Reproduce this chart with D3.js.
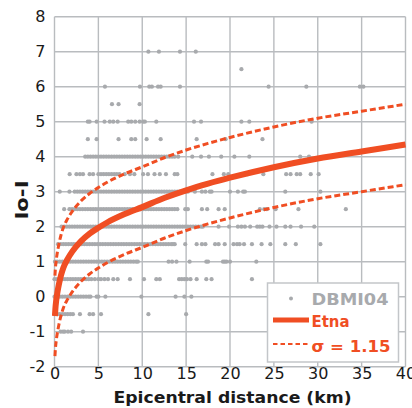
<!DOCTYPE html>
<html><head><meta charset="utf-8">
<script src="https://cdn.jsdelivr.net/npm/d3@7"></script>
<style>html,body{margin:0;padding:0;background:#fff;}svg{display:block;}</style>
</head><body>
<svg id="c" width="412" height="408"></svg>
<script>
// ---------- data ----------
const X_TICKS = [0, 5, 10, 15, 20, 25, 30, 35, 40];
const Y_TICKS = [-2, -1, 0, 1, 2, 3, 4, 5, 6, 7, 8];

// Observed intensity decay (Io-I) rows and the epicentral distances (km) of DBMI04 points
const rowIoI = [7, 6.5, 6, 5.5, 5, 4.5, 4, 3.5, 3, 2.5, 2, 1.5, 1, 0.5, 0, -0.5, -1];
const rowDist = [
  [10.7, 11.9, 14.3, 16.1],
  [21.3],
  [5.75, 9.74, 10.8, 11.1, 11.8, 12.1, 14.3, 24.4, 28.7, 34.8, 35.2],
  [6.55, 7.3, 9.7],
  [3.8, 4.0, 4.8, 5.7, 6.3, 6.7, 7.2, 8.4, 8.75, 9.2, 9.7, 10.1, 10.3, 11.6, 15.9, 16.7, 21.3, 22.2, 29.3],
  [3.8, 4.8, 7.3, 8.75, 9.2, 10.5, 12.1, 16.2, 19.5, 23.7],
  [3.5,3.8,4.1,4.4,4.7,5.0,5.3,5.6,5.9,6.2,6.5,6.8,7.1,7.4,7.7,8.0,8.3,8.6,8.9,9.2,9.5,9.8,10.1,10.4,10.7,11.0,11.3,11.6,11.9,12.2,12.5,12.8,13.1,13.4,13.7,
   14.1, 15.7, 16.7, 17.6, 19.0, 20.5, 22.2, 28.0, 29.0],
  [1.73, 2.5, 2.9, 3.25, 4.0, 4.4, 5.0,5.3,5.6,5.9,6.2,6.5,6.8,7.1,7.4, 8.0, 8.6, 9.1, 10.1, 10.65, 11.4, 12.0, 12.7, 13.7,
   14.0, 18.0, 19.3, 19.8, 22.0, 23.8, 26.4, 26.9, 27.6, 28.0, 29.2, 30.1],
  [0.6, 1.7, 2.3,2.6,2.9,3.2,3.5,3.8,4.1,4.4,4.7,5.0,5.3,5.6,5.9,6.2,6.5,6.8,7.1,7.4,7.7,8.0,8.3,8.6,8.9,9.2,9.5,9.8,10.1,10.4,10.7,11.0,11.3,11.6,11.9,12.2,12.5,12.8,13.1,13.4,13.7,14.0,14.3,
   14.9, 15.2, 16.0, 16.8, 17.2, 17.7, 17.9, 20.0, 20.9, 21.5, 21.7, 26.3, 30.3],
  [1.1, 1.7,2.0,2.3,2.6,2.9,3.2,3.5,3.8,4.1,4.4,4.7,5.0,5.3,5.6,5.9,6.2,6.5,6.8,7.1,7.4,7.7,8.0,8.3,8.6,8.9,9.2,9.5,9.8,10.1,10.4,10.7,11.0,11.3,11.6,11.9,12.2,12.5,12.8,13.1,13.4,13.7,14.0,
   14.9, 15.2, 16.8, 17.4, 18.7, 19.4, 23.4, 23.9, 24.2, 25.2, 27.8, 33.2],
  [0.8,1.1,1.4,1.7,2.0,2.3,2.6,2.9,3.2,3.5,3.8,4.1,4.4,4.7,5.0,5.3,5.6,5.9,6.2,6.5,6.8,7.1,7.4,7.7,8.0,8.3,8.6,8.9,9.2,9.5,9.8,10.1,10.4,10.7,11.0,11.3,11.6,11.9,12.2,12.5,12.8,13.1,13.4,13.7,14.0,14.3,14.6,14.9,15.2,15.5,15.8,16.1,16.4,16.7,16.9,
   18.7, 19.9, 20.9, 21.3, 21.7, 22.3, 23.1, 23.4, 23.7, 24.5, 25.3, 26.3, 26.9, 28.1, 29.6],
  [0.4,0.7,1.0,1.3,1.6,1.9,2.2,2.5,2.8,3.1,3.4,3.7,4.0,4.3,4.6,4.9,5.2,5.5,5.8,6.1,6.4,6.7,7.0,7.3,7.6,7.9,8.2,8.5,8.8,9.1,9.4,9.7,10.0,10.3,10.6,10.9,11.2,11.5,11.8,12.1,12.4,12.7,13.0,13.3,13.5,
   13.7, 14.9, 16.2, 16.8, 17.2, 18.3, 18.7, 19.4, 20.4, 20.8, 21.1, 21.6, 22.5, 23.6, 24.6, 26.3, 27.5, 30.3],
  [0.05,0.3,0.6,0.9,1.2,1.5,1.8,2.1,2.4,2.7,3.0,3.3,3.6,3.9,4.2,4.5,4.8,5.1,5.4,5.7,6.0,6.3,6.6,6.9,7.2,7.5,7.8,8.1,8.4,8.7,9.0,9.3,9.5,
   13.0, 13.4, 13.9, 15.4, 17.3, 17.5, 19.2, 19.4, 19.6, 20.0, 23.0],
  [0.0,0.3,0.6,0.9,1.2,1.5,1.8,2.1,2.4,2.7,3.0,3.3,3.6,3.9,4.2,
   4.6, 5.0, 5.3, 5.7, 6.1, 6.7, 7.2, 8.6, 10.2, 11.6, 12.0, 14.2, 14.5, 14.8, 15.1, 15.5, 16.2, 17.3, 17.9, 22.5],
  [0.0,0.3,0.6,0.9,1.2,1.5,1.8,2.1,2.4,2.7,3.0,3.3,3.6,3.9,4.1,
   4.8, 5.0, 5.8, 9.9, 13.8, 14.8, 15.6],
  [0.0,0.3,0.6,0.9,1.2,1.5,1.8,2.1,
   2.9, 4.0, 4.4, 5.3, 10.7, 15.0],
  [0.7, 0.97, 1.16, 1.54, 1.9, 3.25]
];

// Etna attenuation curve and +/- sigma band
const curveDist = [0.05,0.1,0.2,0.35,0.5,0.75,1,1.5,2,3,4,5,6,8,10,12.5,15,17.5,20,25,30,35,40];
const etnaIoI   = [-0.55,-0.35,-0.1,0.15,0.35,0.62,0.82,1.08,1.28,1.58,1.8,1.97,2.12,2.36,2.56,2.82,3.04,3.23,3.4,3.7,3.95,4.15,4.35];
const upperIoI  = [0.6,0.8,1.05,1.3,1.5,1.77,1.97,2.23,2.43,2.73,2.95,3.12,3.27,3.51,3.71,3.97,4.19,4.38,4.55,4.85,5.1,5.3,5.5];
const lowerIoI  = [-1.7,-1.5,-1.25,-1.0,-0.8,-0.53,-0.33,-0.07,0.13,0.43,0.65,0.82,0.97,1.21,1.41,1.67,1.89,2.08,2.25,2.55,2.8,3.0,3.2];

const legendLabels = ["DBMI04", "Etna", "\u03c3 = 1.15"];
const xTitle = "Epicentral distance (km)";
const yTitle = "Io-I";

// ---------- drawing ----------
const RED = "#f04e23", GRID = "#b9bcbf", PT = "#a8aaad";
const FONT = "'DejaVu Sans', Verdana, sans-serif";
const svg = d3.select("#c");
const m = {l: 54.5, r: 405.5, t: 16.7, b: 366.7};
const x = d3.scaleLinear().domain([0, 40]).range([m.l, m.r]);
const y = d3.scaleLinear().domain([-2, 8]).range([m.b, m.t]);

// grid
const g = svg.append("g");
g.selectAll(".vg").data(X_TICKS).join("line")
  .attr("x1", d => x(d)).attr("x2", d => x(d)).attr("y1", m.t).attr("y2", m.b)
  .attr("stroke", GRID).attr("stroke-width", 1.4);
g.selectAll(".hg").data(Y_TICKS).join("line")
  .attr("x1", m.l).attr("x2", m.r).attr("y1", d => y(d)).attr("y2", d => y(d))
  .attr("stroke", GRID).attr("stroke-width", 1.4);

// tick labels via d3 axes (no lines)
const fmt = d => String(d);
const xAxis = svg.append("g").attr("transform", `translate(0,${m.b})`)
  .call(d3.axisBottom(x).tickValues(X_TICKS).tickFormat(fmt).tickSize(0).tickPadding(4));
const yAxis = svg.append("g").attr("transform", `translate(${m.l},0)`)
  .call(d3.axisLeft(y).tickValues(Y_TICKS).tickFormat(fmt).tickSize(0).tickPadding(9));
[xAxis, yAxis].forEach(a => {
  a.select(".domain").remove();
  a.selectAll("text").attr("font-family", FONT).attr("font-size", 16).attr("fill", "#1a1a1a");
});
xAxis.selectAll("text").attr("dy", "0.71em").attr("y", 1);
yAxis.selectAll("text").attr("dy", "0.3em");

// points
const pts = [];
rowIoI.forEach((v, i) => rowDist[i].forEach(d => pts.push([d, v])));
svg.append("g").selectAll("circle").data(pts).join("circle")
  .attr("cx", d => x(d[0])).attr("cy", d => y(d[1])).attr("r", 2.1).attr("fill", PT);

// curves
const line = (ys) => d3.line().x((d, i) => x(curveDist[i])).y(d => y(d)).curve(d3.curveMonotoneX)(ys);
svg.append("path").attr("d", line(upperIoI)).attr("fill", "none").attr("stroke", RED)
  .attr("stroke-width", 3).attr("stroke-dasharray", "6,3");
svg.append("path").attr("d", line(lowerIoI)).attr("fill", "none").attr("stroke", RED)
  .attr("stroke-width", 3).attr("stroke-dasharray", "6,3");
svg.append("path").attr("d", line(etnaIoI)).attr("fill", "none").attr("stroke", RED)
  .attr("stroke-width", 6);

// axis titles
svg.append("text").attr("x", 232.5).attr("y", 403).attr("text-anchor", "middle")
  .attr("font-family", FONT).attr("font-size", 16).attr("font-weight", "bold").attr("fill", "#1a1a1a")
  .attr("textLength", 238).attr("lengthAdjust", "spacingAndGlyphs")
  .text(xTitle);
svg.append("text").attr("transform", "translate(27.5,200) rotate(-90)").attr("text-anchor", "middle")
  .attr("font-family", FONT).attr("font-size", 17).attr("font-weight", "bold").attr("fill", "#1a1a1a")
  .attr("textLength", 39).attr("lengthAdjust", "spacingAndGlyphs")
  .text(yTitle);

// legend
const lg = svg.append("g");
lg.append("rect").attr("x", 267.5).attr("y", 283).attr("width", 131).attr("height", 79)
  .attr("fill", "#fff").attr("stroke", "#c3c6c9").attr("stroke-width", 1.5);
lg.append("circle").attr("cx", 291).attr("cy", 298.5).attr("r", 2).attr("fill", PT);
lg.append("line").attr("x1", 273).attr("x2", 309).attr("y1", 320).attr("y2", 320)
  .attr("stroke", RED).attr("stroke-width", 5);
lg.append("line").attr("x1", 273).attr("x2", 309).attr("y1", 344).attr("y2", 344)
  .attr("stroke", RED).attr("stroke-width", 2.2).attr("stroke-dasharray", "4.5,3");
const lt = [[305, PT, 77], [327, RED, 38], [351.5, RED, 79]];
lg.selectAll("text.l").data(legendLabels).join("text")
  .attr("x", 311.5).attr("y", (d, i) => lt[i][0]).attr("fill", (d, i) => lt[i][1])
  .attr("textLength", (d, i) => lt[i][2]).attr("lengthAdjust", "spacingAndGlyphs")
  .attr("font-family", FONT).attr("font-size", 16).attr("font-weight", "bold").text(d => d);
</script>
</body></html>
